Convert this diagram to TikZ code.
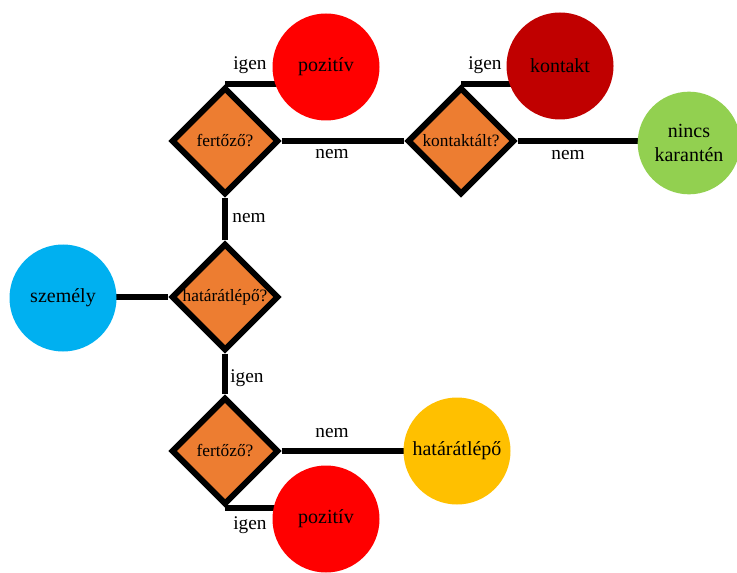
\documentclass[tikz,border=0pt]{standalone}
\usepackage{fontspec}
\setmainfont{Liberation Serif}
\usetikzlibrary{shapes.geometric,backgrounds}
\definecolor{kerdesszin}{HTML}{ED7D31}
\definecolor{kekszin}{HTML}{00B0F0}
\definecolor{pirosszin}{HTML}{FF0000}
\definecolor{bordoszin}{HTML}{C00000}
\definecolor{zoldszin}{HTML}{92D050}
\definecolor{sargaszin}{HTML}{FFC000}
\begin{document}
\begin{tikzpicture}[x=0.75pt,y=-0.75pt,
	kerdes/.style={diamond,aspect=1,draw=black,line width=4.5pt,fill=kerdesszin,
		minimum width=80.6pt,minimum height=80.6pt,inner sep=0pt,font=\fontsize{13}{15}\selectfont},
	eredmeny/.style={circle,minimum size=80.25pt,inner sep=0pt,align=center,
		font=\fontsize{15}{17.5}\selectfont},
	valasz/.style={inner sep=0pt,font=\fontsize{14.5}{17}\selectfont},
	vonal/.style={line width=4.5pt}]
		\useasboundingbox (0,0) rectangle (737,573);
		% kerdesek
		\node[kerdes] (hatar) at (225,297) {határátlépő?};
		\node[kerdes] (fert1) at (225,141) {fertőző?};
		\node[kerdes] (kont) at (461,141) {kontaktált?};
		\node[kerdes] (fert2) at (225,451) {fertőző?};
		% eredmenyek
		\node[eredmeny,fill=kekszin] (szemely) at (63,298) {személy};
		\node[eredmeny,fill=pirosszin] (poz1) at (326,67) {pozitív};
		\node[eredmeny,fill=bordoszin] (kontakt) at (560,66) {kontakt};
		\node[eredmeny,fill=zoldszin,minimum size=77pt] (nincs) at (689,143) {nincs\\karantén};
		\node[eredmeny,fill=sargaszin] (hatarlepo) at (457,451) {határátlépő};
		\node[eredmeny,fill=pirosszin] (poz2) at (326,519) {pozitív};
		% vonalak
		\begin{scope}[on background layer]
		\draw[vonal] (hatar.west) -- (hatar.west -| szemely.center);
		\draw[vonal] (hatar.north) -- (fert1.south);
		\draw[vonal] (hatar.south) -- (fert2.north);
		\draw[vonal] (fert1.north) -- (fert1.north -| poz1.center);
		\draw[vonal] (fert1.east) -- (kont.west);
		\draw[vonal] (kont.north) -- (kont.north -| kontakt.center);
		\draw[vonal] (kont.east) -- (kont.east -| nincs.center);
		\draw[vonal] (fert2.east) -- (fert2.east -| hatarlepo.center);
		\draw[vonal] (fert2.south) -- (fert2.south -| poz2.center);
		\end{scope}
		% valaszok
		\node[valasz] (v1) at (250,65) {igen};
		\node[valasz] (v2) at (332,154) {nem};
		\node[valasz] (v3) at (249,218) {nem};
		\node[valasz] (v4) at (485,65) {igen};
		\node[valasz] (v5) at (568,155) {nem};
		\node[valasz] (v6) at (247,378) {igen};
		\node[valasz] (v7) at (332,433) {nem};
		\node[valasz] (v8) at (250,525) {igen};
\end{tikzpicture}
\end{document}
